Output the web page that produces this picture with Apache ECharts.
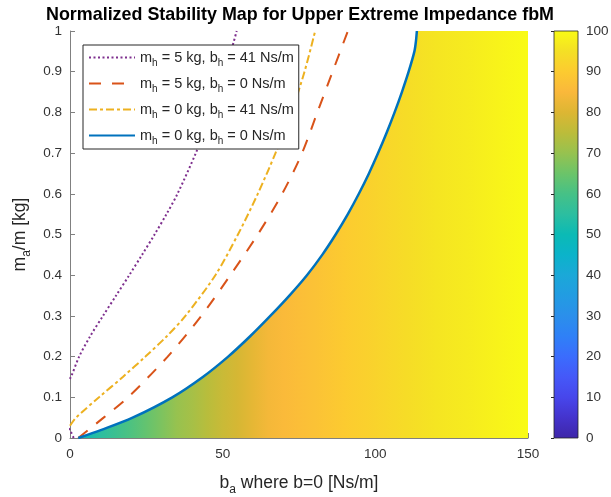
<!DOCTYPE html>
<html><head><meta charset="utf-8">
<script src="https://cdn.jsdelivr.net/npm/echarts@6/dist/echarts.min.js"></script>
<style>html,body{margin:0;padding:0;background:#fff}#c{width:611px;height:497px}</style>
</head><body><div id="c"></div>
<script>
// ---- data ----
// stability boundaries: b_a [Ns/m] vs m_a/m [kg]
const blueB = [2.7, 10.3, 20.5, 33.5, 43.5, 51.8, 59, 65.6, 71.85, 77.6, 82.6, 87, 91, 94.6, 97.9, 100.9, 103.7, 106.3, 108.7, 110.9, 112.8, 113.3, 113.6];
const blueM = [0, 0.02, 0.05, 0.1, 0.15, 0.2, 0.25, 0.3, 0.35, 0.4, 0.45, 0.5, 0.55, 0.6, 0.65, 0.7, 0.75, 0.8, 0.85, 0.9, 0.95, 0.975, 1.0];
const redB  = [2.7, 11, 19, 32, 43, 52.5, 61.5, 69.5, 76, 81, 86, 91];
const redM  = [0, 0.05, 0.1, 0.2, 0.3, 0.4, 0.5, 0.6, 0.7, 0.8, 0.9, 1.0];
const yelB  = [0, 2, 9.5, 17.3, 24.7, 31.7, 37.8, 47.6, 55, 61.5, 67.3, 72.5, 76.8, 80.3];
const yelM  = [0.03, 0.05, 0.1, 0.15, 0.2, 0.25, 0.3, 0.4, 0.5, 0.6, 0.7, 0.8, 0.9, 1.0];
const purB  = [1.2, 0.3, -2, -2, 0.3, 3, 6.6, 10.8, 15.1, 19.4, 23.6, 27.7, 31.6, 35.2, 41.2, 46.4, 50.8, 54.6];
const purM  = [0, 0.015, 0.05, 0.12, 0.15, 0.2, 0.25, 0.3, 0.35, 0.4, 0.45, 0.5, 0.55, 0.6, 0.7, 0.8, 0.9, 1.0];
// upper edge of the stable region from the top of the blue boundary to the right edge
const topB = [112.8, 113.3, 113.6, 150];
const topM = [0.95, 0.975, 1.0, 1.0];
// normalized stability value across b_a (colour of the stable region)
const heatB = [0, 5, 10, 15, 20, 25, 30, 35, 40, 45, 50, 55, 60, 65, 70, 75, 80, 90, 100, 110, 120, 130, 140, 150];
const heatV = [46, 51, 55, 58, 61, 64, 67, 70, 72, 74.5, 77, 79, 81.5, 84, 85.5, 86.5, 87.5, 90, 92, 94, 96, 97, 98.5, 100];
// legend labels
const legendMass = ['5', '5', '0', '0'];
const legendDamp = ['41', '0', '41', '0'];
const titleText = 'Normalized Stability Map for Upper Extreme Impedance fbM';

// ---- styling ----
const GRID = { left: 70, top: 31, width: 458, height: 407, outerBoundsMode: 'none', containLabel: false };
const parula = [
  [0,'#3E26A8'],[0.05,'#4433CC'],[0.1,'#4746EB'],[0.15,'#4558F8'],[0.2,'#3B6CFD'],
  [0.25,'#2F80F7'],[0.3,'#2B8FEB'],[0.35,'#229CE2'],[0.4,'#1BA8D8'],[0.45,'#0BB3CA'],
  [0.5,'#0BBAB5'],[0.55,'#2CBEA0'],[0.6,'#46C186'],[0.65,'#6CC469'],[0.7,'#97C24F'],
  [0.75,'#BCBC3A'],[0.8,'#DDB633'],[0.85,'#FAB83B'],[0.9,'#FCCB30'],[0.95,'#F4E025'],[1,'#F9FB15']
];
function hex2rgb(h){return [parseInt(h.substr(1,2),16),parseInt(h.substr(3,2),16),parseInt(h.substr(5,2),16)];}
function parulaColor(t){
  t = Math.max(0, Math.min(1, t));
  for (let i = 1; i < parula.length; i++) {
    if (t <= parula[i][0]) {
      const a = parula[i-1], b = parula[i];
      const f = (t - a[0]) / (b[0] - a[0]);
      const ca = hex2rgb(a[1]), cb = hex2rgb(b[1]);
      const c = ca.map((v,k)=>Math.round(v + (cb[k]-v)*f));
      return 'rgb(' + c.join(',') + ')';
    }
  }
  return parula[parula.length-1][1];
}
const heatGradient = {
  type: 'linear', global: true,
  x: GRID.left, y: 0, x2: GRID.left + GRID.width, y2: 0,
  colorStops: heatB.map((b, i) => ({ offset: b / 150, color: parulaColor(heatV[i] / 100) }))
};
const FONT = 'Liberation Sans';
const TXT = '#262626';
const LBL = '#333333';
const AX = '#808080';
const rich = { s: { fontSize: 12, padding: [13,0,0,0], fontFamily: FONT, color: TXT } };
const legRich = { s: { fontSize: 10, padding: [11,0,0,0], fontFamily: FONT, color: TXT } };
const SMOOTH = 0.3;

const lineDefs = [
  { b: purB, m: purM, color: '#7E2F8E', width: 2, type: [2, 2.5] },
  { b: redB, m: redM, color: '#D95319', width: 2, type: [12, 11] },
  { b: yelB, m: yelM, color: '#EDB120', width: 2, type: [8, 3, 3, 3] },
  { b: blueB, m: blueM, color: '#0072BD', width: 2.5, type: 'solid' }
];
const names = legendMass.map((mm, i) => 'm{s|h} = ' + mm + ' kg, b{s|h} = ' + legendDamp[i] + ' Ns/m');

const series = [];
// stable-region fill (below blue boundary), coloured by stability value
series.push({
  type: 'line', xAxisIndex: 0, yAxisIndex: 0, silent: true, z: 1,
  data: blueB.map((b, k) => [b, blueM[k]]),
  symbol: 'none', smooth: SMOOTH,
  lineStyle: { width: 0, opacity: 0 },
  areaStyle: { color: heatGradient, opacity: 1, origin: 'start' }
});
series.push({
  type: 'line', xAxisIndex: 0, yAxisIndex: 0, silent: true, z: 1,
  data: topB.map((b, k) => [b, topM[k]]),
  symbol: 'none',
  lineStyle: { width: 0, opacity: 0 },
  areaStyle: { color: heatGradient, opacity: 1, origin: 'start' }
});
lineDefs.forEach((d, i) => {
  series.push({
    type: 'line', name: names[i], xAxisIndex: 0, yAxisIndex: 0, z: 3 + i,
    data: d.b.map((b, k) => [b, d.m[k]]),
    symbol: 'none', showSymbol: false, smooth: SMOOTH, clip: true,
    lineStyle: { color: d.color, width: d.width, type: d.type },
    itemStyle: { color: d.color }
  });
});
series.push({
  type: 'custom', xAxisIndex: 1, yAxisIndex: 1, silent: true, z: 2,
  data: [[0, 0]],
  renderItem: function (params, api) {
    const p0 = api.coord([0, 0]), p1 = api.coord([1, 100]);
    return { type: 'rect',
      shape: { x: p0[0], y: p1[1], width: p1[0] - p0[0], height: p0[1] - p1[1] },
      style: { fill: new echarts.graphic.LinearGradient(0, 1, 0, 0,
        parula.map(s => ({ offset: s[0], color: s[1] }))), stroke: TXT, lineWidth: 0.8 } };
  }
});

const chart = echarts.init(document.getElementById('c'), null, { renderer: 'canvas' });
chart.setOption({
  animation: false,
  backgroundColor: '#fff',
  title: { text: titleText, left: 295, top: 1, textAlign: 'center',
    textStyle: { fontFamily: FONT, fontSize: 17.9, fontWeight: 'bold', color: '#000' } },
  grid: [
    GRID,
    { left: 554, top: 31, width: 24, height: 407, outerBoundsMode: 'none', containLabel: false }
  ],
  xAxis: [
    { type: 'value', gridIndex: 0, min: 0, max: 150, interval: 50,
      name: 'b{s|a} where b=0 [Ns/m]', nameLocation: 'middle', nameGap: 33,
      nameTextStyle: { fontFamily: FONT, fontSize: 17.5, color: TXT, rich: rich },
      axisLine: { show: true, onZero: false, lineStyle: { color: AX, width: 1 } },
      axisTick: { show: true, inside: true, length: 5, lineStyle: { color: AX } },
      axisLabel: { fontFamily: FONT, fontSize: 13.5, color: LBL, margin: 9 },
      splitLine: { show: false } },
    { type: 'value', gridIndex: 1, min: 0, max: 1, show: false }
  ],
  yAxis: [
    { type: 'value', gridIndex: 0, min: 0, max: 1, interval: 0.1,
      name: 'm{s|a}/m [kg]', nameLocation: 'middle', nameGap: 36,
      nameTextStyle: { fontFamily: FONT, fontSize: 17.5, color: TXT, rich: rich },
      axisLine: { show: true, onZero: false, lineStyle: { color: AX, width: 1 } },
      axisTick: { show: true, inside: true, length: 5, lineStyle: { color: AX } },
      axisLabel: { fontFamily: FONT, fontSize: 13.5, color: LBL, margin: 8 },
      splitLine: { show: false } },
    { type: 'value', gridIndex: 1, min: 0, max: 100, interval: 10, position: 'right',
      axisLine: { show: false },
      axisTick: { show: true, inside: true, length: 3, lineStyle: { color: TXT } },
      axisLabel: { fontFamily: FONT, fontSize: 13.5, color: LBL, margin: 8 },
      splitLine: { show: false } }
  ],
  legend: {
    left: 83, top: 45, orient: 'vertical', z: 20,
    data: names,
    itemWidth: 46, itemHeight: 14, itemGap: 8,
    padding: [5, 5, 3, 5],
    itemStyle: { opacity: 0 },
    backgroundColor: '#fff', borderColor: TXT, borderWidth: 1,
    textStyle: { fontFamily: FONT, fontSize: 14.5, color: TXT, rich: legRich },
    selectedMode: false
  },
  series: series
});
</script>
</body></html>
